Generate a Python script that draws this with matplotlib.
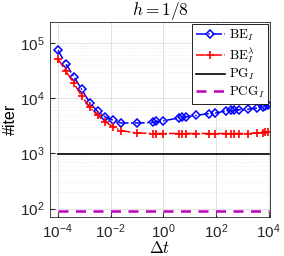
import numpy as np
import matplotlib
matplotlib.use('Agg')
import matplotlib.pyplot as plt

plt.rcParams['mathtext.fontset'] = 'cm'
plt.rcParams['font.family'] = ['Liberation Sans', 'DejaVu Sans']

# time steps
dt = [1e-4, 2e-4, 4e-4, 8e-4, 1.6e-3, 3.2e-3, 6.3e-3, 1.26e-2, 2.5e-2,
      0.1, 0.39, 0.55, 1.0, 3.8, 5.2, 7.1, 18, 54, 95, 245, 380, 500,
      740, 1600, 3500, 6000, 7400, 9300]
be_iter = [74000, 42000, 24500, 14500, 8300, 5750, 4570, 3980, 3550,
           3550, 3630, 3800, 3890, 4370, 4470, 4570, 4900, 5250, 5370,
           5900, 6030, 6030, 6170, 6310, 6600, 6900, 7250, 7600]
bel_iter = [52000, 31000, 18600, 11000, 6800, 4900, 3720, 3020, 2570,
            2340, 2290, 2290, 2290, 2290, 2290, 2290, 2290, 2290, 2290,
            2290, 2290, 2290, 2290, 2290, 2340, 2340, 2400, 2400]
pg_iter = 970
pcg_iter = 92
dt_range = [1e-4, 1e4]

fig = plt.figure(figsize=(2.84, 2.56), dpi=100)
ax = fig.add_axes([0.176, 0.152, 0.775, 0.762])

ax.loglog(dt, be_iter, '-.', color='b', lw=1.1, marker='D', ms=4.5,
          mfc='none', mec='b', mew=1.1, label=r'$\mathrm{BE}_I$')
ax.loglog(dt, bel_iter, '-.', color='r', lw=1.1, marker='+', ms=6,
          mew=1.2, label=r'$\mathrm{BE}_I^\lambda$')
ax.loglog(dt_range, [pg_iter, pg_iter], '-', color='k', lw=1.2,
          label=r'$\mathrm{PG}_I$')
ax.loglog(dt_range, [pcg_iter, pcg_iter], '--', color='m', lw=1.8,
          dashes=(4, 3), label=r'$\mathrm{PCG}_I$')

ax.set_xlim(10**-4.3, 10**4.05)
ax.set_ylim(70, 2.4e5)
ax.set_xticks([1e-4, 1e-2, 1e0, 1e2, 1e4])
ax.set_yticks([1e2, 1e3, 1e4, 1e5])
ax.tick_params(which='both', direction='in', labelsize=11, colors='#262626',
               pad=4)
ax.tick_params(which='minor', length=0)
ax.grid(True, which='major', color='#dcdcdc', lw=0.6)
ax.grid(True, which='minor', color='#e6e6e6', lw=0.5, ls=':')
for s in ax.spines.values():
    s.set_color('#262626')
    s.set_linewidth(0.6)

ax.set_title(r'$h = 1/8$', fontsize=12.5, pad=3)
ax.set_xlabel(r'$\Delta t$', fontsize=12, labelpad=-1)
ax.set_ylabel('#iter', fontsize=11.5, labelpad=1)

leg = ax.legend(loc='upper right', fontsize=9.5, handlelength=2.2,
                handletextpad=0.3, borderaxespad=0.15, borderpad=0.25,
                labelspacing=0.2, fancybox=False, framealpha=1)
leg.get_frame().set_edgecolor('k')
leg.get_frame().set_linewidth(0.6)

plt.savefig('out.png', dpi=100)
